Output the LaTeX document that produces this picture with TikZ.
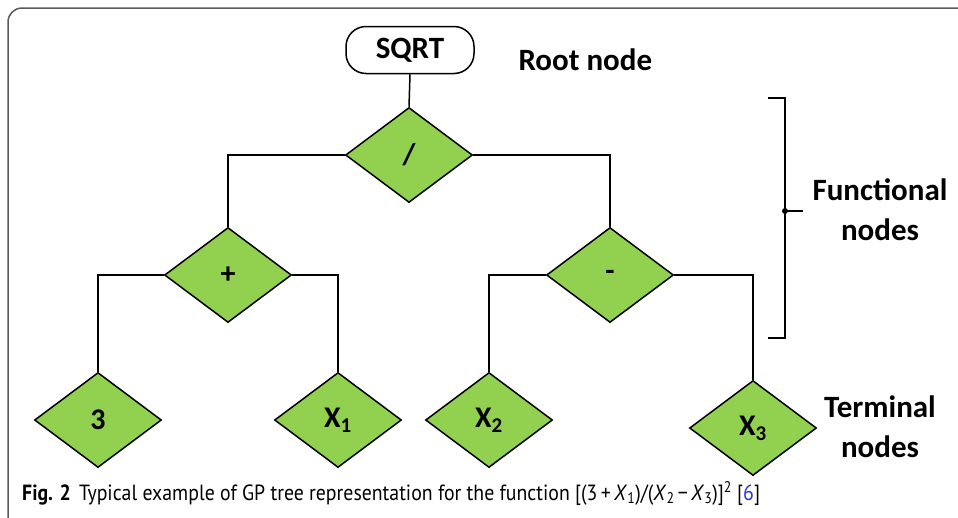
\documentclass[tikz,border=0pt]{standalone}
\usepackage{fontspec}
\setmainfont{Carlito}
\newfontfamily\capfont{PT Sans}
\usetikzlibrary{shapes.geometric}
\definecolor{leaf}{RGB}{146,208,80}
\definecolor{framegray}{RGB}{90,90,90}
\definecolor{citeblue}{RGB}{40,60,220}
\begin{document}
\begin{tikzpicture}[x=1pt,y=-1pt,
  gpnode/.style={diamond, draw=black, line width=1.5pt, fill=leaf,
    minimum width=127pt, minimum height=95pt, inner sep=0pt,
    font=\fontsize{30}{31}\selectfont\bfseries},
  rootbox/.style={rectangle, rounded corners=20pt, draw=black, line width=1.5pt,
    fill=white, minimum width=128pt, minimum height=47pt, inner sep=0pt,
    font=\fontsize{31}{32}\selectfont\bfseries},
  tag/.style={align=center, font=\fontsize{31}{40}\selectfont\bfseries},
  link/.style={line width=1.5pt, draw=black},
  brace/.style={line width=2pt, draw=black}]
\useasboundingbox (0,0) rectangle (958,517);
\fill[white] (0,0) rectangle (958,517);
% outer frame
\draw[framegray, line width=1.5pt, rounded corners=14pt] (8,530) -- (8,8) -- (975,8);

% tree nodes
\node[rootbox] (sqrt) at (410,50) {SQRT};
\node[gpnode] (div) at (409,155) {/};
\node[gpnode] (plus) at (228,275) {+};
\node[gpnode] (minus) at (610,275) {-};
\node[gpnode] (three) at (98,420) {3};
\node[gpnode] (xa) at (338,420) {X\textsubscript{1}};
\node[gpnode] (xb) at (489,420) {X\textsubscript{2}};
\node[gpnode] (xc) at (753,428) {X\textsubscript{3}};

% connectors
\draw[link] (sqrt.south) -- (div.north);
\draw[link] (div.west) -| (plus.north);
\draw[link] (div.east) -| (minus.north);
\draw[link] (plus.west) -| (three.north);
\draw[link] (plus.east) -| (xa.north);
\draw[link] (minus.west) -| (xb.north);
\draw[link] (minus.east) -| (xc.north);

% labels
\node[tag, anchor=west] (rootlbl) at (515,60) {Root node};
\coordinate (btop) at (785,98);
\coordinate (bbot) at (785,338);
\coordinate (bmid) at (785,211);
\coordinate (btip) at (803,211);
\draw[brace] (768,98) -- (btop) -- (bbot) -- (768,338);
\draw[brace] (bmid) -- (btip);
\fill (bmid) circle (3pt);
\node[tag] (funclbl) at (880,210) {Functional\\nodes};
\node[tag] (termlbl) at (880,427) {Terminal\\nodes};

% caption
\node[anchor=base west, inner sep=0pt, font=\capfont\fontsize{22}{26}\selectfont] (cap) at (22,500)
  {\scalebox{0.9}[1]{\textbf{Fig. 2}\hspace{9pt}Typical example of GP tree representation for the function [(3\,+\,\textit{X}\textsubscript{1})/(\textit{X}\textsubscript{2}\,−\,\textit{X}\textsubscript{3})]\textsuperscript{2} [{\color{citeblue}6}]}};
\end{tikzpicture}
\end{document}
